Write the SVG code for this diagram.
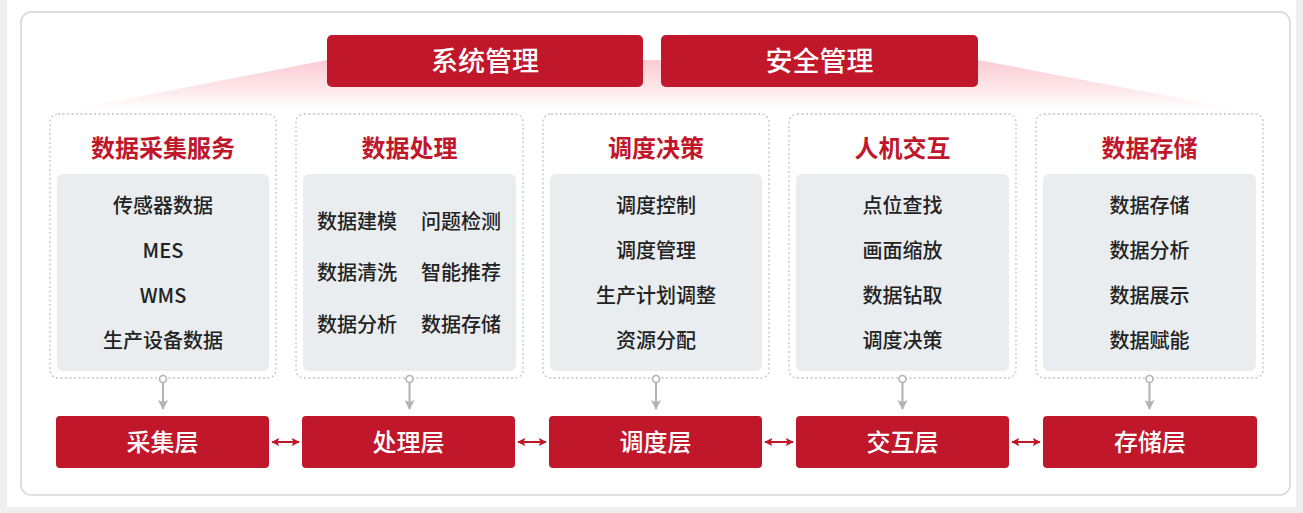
<svg xmlns="http://www.w3.org/2000/svg" width="1303" height="513" viewBox="0 0 1303 513">
  <defs>
    <linearGradient id="fan" x1="0" y1="0" x2="0" y2="1">
      <stop offset="0" stop-color="#fbcad2" stop-opacity="1"/>
      <stop offset="0.6" stop-color="#fde3e7" stop-opacity="0.75"/>
      <stop offset="1" stop-color="#ffffff" stop-opacity="0.2"/>
    </linearGradient>
    <marker id="arrGray" viewBox="0 0 10 10" refX="9" refY="5" markerWidth="10" markerHeight="10" markerUnits="userSpaceOnUse" orient="auto">
      <path d="M0,0 L10,5 L0,10 L2,5 Z" fill="#b3b3b3"/>
    </marker>
    <marker id="arrRed" viewBox="0 0 10 10" refX="9" refY="5" markerWidth="8" markerHeight="8" markerUnits="userSpaceOnUse" orient="auto-start-reverse">
      <path d="M0,0 L10,5 L0,10 L2,5 Z" fill="#c0172b"/>
    </marker>
  </defs>
  <style>
    .zh { font-family: "Noto Sans CJK SC", "Noto Sans", "Liberation Sans", sans-serif; }
    .col { fill: #ffffff; stroke: #c4c4c4; stroke-width: 1.3; stroke-dasharray: 2 2.5; }
    .inner { fill: #e9edf0; }
    .red { fill: #c0172b; }
    .hdr { font-size: 24px; font-weight: bold; fill: #c0172b; text-anchor: middle; dominant-baseline: central; }
    .item { font-size: 20px; font-weight: 500; fill: #222222; text-anchor: middle; dominant-baseline: central; }
    .topT { font-size: 27px; font-weight: 500; fill: #ffffff; text-anchor: middle; dominant-baseline: central; }
    .layT { font-size: 24px; font-weight: 500; fill: #ffffff; text-anchor: middle; dominant-baseline: central; }
    .vline { stroke: #b3b3b3; stroke-width: 2; fill: none; }
    .dot { fill: #ffffff; stroke: #b3b3b3; stroke-width: 1.6; }
    .hline { stroke: #c0172b; stroke-width: 2; fill: none; }
  </style>

  <!-- background -->
  <rect x="0" y="0" width="1303" height="513" fill="#efeff1"/>
  <rect x="7" y="0" width="1289" height="507" fill="#ffffff"/>
  <rect x="21" y="12" width="1269" height="483" rx="10" ry="10" fill="#ffffff" stroke="#d6d6d6" stroke-width="1.5"/>

  <!-- fan -->
  <polygon points="50,114 327,60 978,60 1263,114" fill="url(#fan)"/>

  <!-- top boxes -->
  <g id="sys">
    <rect x="327" y="35" width="316" height="52" rx="5" class="red"/>
    <text x="485" y="59" class="zh topT">系统管理</text>
  </g>
  <g id="sec">
    <rect x="661" y="35" width="317" height="52" rx="5" class="red"/>
    <text x="819.5" y="59" class="zh topT">安全管理</text>
  </g>

  <!-- columns -->
  <g id="col1">
    <rect x="50" y="114" width="226" height="264" rx="8" class="col"/>
    <text x="163" y="146" class="zh hdr">数据采集服务</text>
    <rect x="57" y="174" width="212" height="197" rx="6" class="inner"/>
    <text x="163" y="204.5" class="zh item">传感器数据</text>
    <text x="163" y="249.5" class="zh item">MES</text>
    <text x="163" y="294.5" class="zh item">WMS</text>
    <text x="163" y="339.5" class="zh item">生产设备数据</text>
  </g>
  <g id="col2">
    <rect x="296" y="114" width="227" height="264" rx="8" class="col"/>
    <text x="409.5" y="146" class="zh hdr">数据处理</text>
    <rect x="303" y="174" width="213" height="197" rx="6" class="inner"/>
    <text x="357" y="220.5" class="zh item">数据建模</text>
    <text x="461" y="220.5" class="zh item">问题检测</text>
    <text x="357" y="271.5" class="zh item">数据清洗</text>
    <text x="461" y="271.5" class="zh item">智能推荐</text>
    <text x="357" y="323.5" class="zh item">数据分析</text>
    <text x="461" y="323.5" class="zh item">数据存储</text>
  </g>
  <g id="col3">
    <rect x="543" y="114" width="226" height="264" rx="8" class="col"/>
    <text x="656" y="146" class="zh hdr">调度决策</text>
    <rect x="550" y="174" width="212" height="197" rx="6" class="inner"/>
    <text x="656" y="204.5" class="zh item">调度控制</text>
    <text x="656" y="249.5" class="zh item">调度管理</text>
    <text x="656" y="294.5" class="zh item">生产计划调整</text>
    <text x="656" y="339.5" class="zh item">资源分配</text>
  </g>
  <g id="col4">
    <rect x="789" y="114" width="227" height="264" rx="8" class="col"/>
    <text x="902.5" y="146" class="zh hdr">人机交互</text>
    <rect x="796" y="174" width="213" height="197" rx="6" class="inner"/>
    <text x="902.5" y="204.5" class="zh item">点位查找</text>
    <text x="902.5" y="249.5" class="zh item">画面缩放</text>
    <text x="902.5" y="294.5" class="zh item">数据钻取</text>
    <text x="902.5" y="339.5" class="zh item">调度决策</text>
  </g>
  <g id="col5">
    <rect x="1036" y="114" width="227" height="264" rx="8" class="col"/>
    <text x="1149.5" y="146" class="zh hdr">数据存储</text>
    <rect x="1043" y="174" width="213" height="197" rx="6" class="inner"/>
    <text x="1149.5" y="204.5" class="zh item">数据存储</text>
    <text x="1149.5" y="249.5" class="zh item">数据分析</text>
    <text x="1149.5" y="294.5" class="zh item">数据展示</text>
    <text x="1149.5" y="339.5" class="zh item">数据赋能</text>
  </g>

  <!-- layer boxes -->
  <g id="layer1">
    <rect x="56" y="416" width="213" height="52" rx="4" class="red"/>
    <text x="162.5" y="440" class="zh layT">采集层</text>
  </g>
  <g id="layer2">
    <rect x="302" y="416" width="213" height="52" rx="4" class="red"/>
    <text x="408.5" y="440" class="zh layT">处理层</text>
  </g>
  <g id="layer3">
    <rect x="549" y="416" width="213" height="52" rx="4" class="red"/>
    <text x="655.5" y="440" class="zh layT">调度层</text>
  </g>
  <g id="layer4">
    <rect x="796" y="416" width="213" height="52" rx="4" class="red"/>
    <text x="902.5" y="440" class="zh layT">交互层</text>
  </g>
  <g id="layer5">
    <rect x="1043" y="416" width="214" height="52" rx="4" class="red"/>
    <text x="1150" y="440" class="zh layT">存储层</text>
  </g>

  <!-- connectors -->
  <g id="connectors">
    <line x1="163" y1="382" x2="163" y2="409" class="vline" marker-end="url(#arrGray)"/>
    <circle cx="163" cy="379" r="3.5" class="dot"/>
    <line x1="409.5" y1="382" x2="409.5" y2="409" class="vline" marker-end="url(#arrGray)"/>
    <circle cx="409.5" cy="379" r="3.5" class="dot"/>
    <line x1="656" y1="382" x2="656" y2="409" class="vline" marker-end="url(#arrGray)"/>
    <circle cx="656" cy="379" r="3.5" class="dot"/>
    <line x1="902.5" y1="382" x2="902.5" y2="409" class="vline" marker-end="url(#arrGray)"/>
    <circle cx="902.5" cy="379" r="3.5" class="dot"/>
    <line x1="1149.5" y1="382" x2="1149.5" y2="409" class="vline" marker-end="url(#arrGray)"/>
    <circle cx="1149.5" cy="379" r="3.5" class="dot"/>

    <line x1="272" y1="442" x2="299" y2="442" class="hline" marker-start="url(#arrRed)" marker-end="url(#arrRed)"/>
    <line x1="518" y1="442" x2="546" y2="442" class="hline" marker-start="url(#arrRed)" marker-end="url(#arrRed)"/>
    <line x1="765" y1="442" x2="793" y2="442" class="hline" marker-start="url(#arrRed)" marker-end="url(#arrRed)"/>
    <line x1="1012" y1="442" x2="1040" y2="442" class="hline" marker-start="url(#arrRed)" marker-end="url(#arrRed)"/>
  </g>
</svg>
